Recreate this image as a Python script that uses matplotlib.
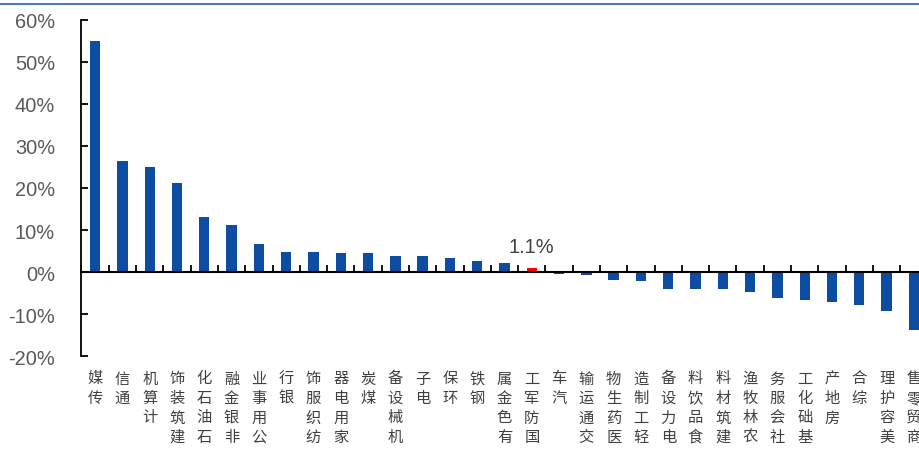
import matplotlib
matplotlib.use('Agg')
import matplotlib.pyplot as plt
import matplotlib.transforms as mtransforms
from matplotlib.lines import Line2D
from matplotlib.ticker import FixedLocator, FuncFormatter

# industry returns (%), sorted high -> low
industries = ['传媒', '通信', '计算机', '建筑装饰', '石油石化', '非银金融', '公用事业',
              '银行', '纺织服饰', '家用电器', '煤炭', '机械设备', '电子', '环保', '钢铁',
              '有色金属', '国防军工', '汽车', '交通运输', '医药生物', '轻工制造', '电力设备',
              '食品饮料', '建筑材料', '农林牧渔', '社会服务', '基础化工', '房地产', '综合',
              '美容护理', '商贸零售']
returns = [54.9, 26.5, 25.0, 21.2, 13.0, 11.3, 6.7,
           4.8, 4.75, 4.6, 4.45, 3.9, 3.85, 3.45, 2.6,
           2.25, 1.1, -0.4, -0.7, -1.9, -2.2, -3.9,
           -4.0, -4.1, -4.8, -6.1, -6.6, -7.0, -7.7,
           -9.3, -13.8]
highlight = '国防军工'
yticks = [-20, -10, 0, 10, 20, 30, 40, 50, 60]

BLUE = '#0C4DA2'
RED = '#FF0000'

W, H = 920, 452
fig = plt.figure(figsize=(W / 100, H / 100), dpi=100)
ax = fig.add_axes([81.5 / W, 1 - 357.3 / H, 846 / W, 336.6 / H])

x = list(range(len(industries)))
colors = [RED if name == highlight else BLUE for name in industries]
ax.bar(x, returns, width=0.38, color=colors, zorder=2)

ax.set_xlim(-0.5, len(industries) - 0.5)
ax.set_ylim(yticks[0], yticks[-1])

# axes styling
for side in ('top', 'right'):
    ax.spines[side].set_visible(False)
ax.spines['left'].set_linewidth(1.3)
ax.spines['bottom'].set_position(('data', 0))
ax.spines['bottom'].set_linewidth(1.5)
ax.spines['bottom'].set_zorder(3)

ax.yaxis.set_major_locator(FixedLocator(yticks))
ax.yaxis.set_major_formatter(FuncFormatter(lambda v, p: f'{v:.0f}%'))
ax.tick_params(axis='y', direction='in', length=5, width=1.3, pad=19,
               labelsize=14.4, labelcolor='#595959')
for lab in ax.get_yticklabels():
    lab.set_fontfamily('Liberation Sans')

ax.xaxis.set_major_locator(FixedLocator([i + 0.5 for i in range(-1, len(industries))]))
ax.tick_params(axis='x', direction='in', length=5, width=1.3, labelbottom=False)

# stacked category labels under the plot, last character on top
trans = mtransforms.blended_transform_factory(ax.transData, fig.transFigure)
step = 19.5
for i, name in enumerate(industries):
    for j, ch in enumerate(reversed(name)):
        yc = 1 - (379 + j * step) / H
        fig.text(i, yc, ch, transform=trans, ha='center', va='center',
                 fontsize=11, color='#404040', family=['Noto Sans CJK SC', 'DejaVu Sans'])

# value label for the highlighted bar
k = industries.index(highlight)
ax.annotate(f'{returns[k]:.1f}%', xy=(k, returns[k]), xytext=(0, 11),
            textcoords='offset points', ha='center', va='baseline',
            fontsize=14.4, color='#404040', family='Liberation Sans')

# thin rule across the top
fig.add_artist(Line2D([0, 1], [1 - 4.5 / H, 1 - 4.5 / H], transform=fig.transFigure,
                      color='#2F6DB5', linewidth=1.3))

fig.savefig('out.png', dpi=100)
